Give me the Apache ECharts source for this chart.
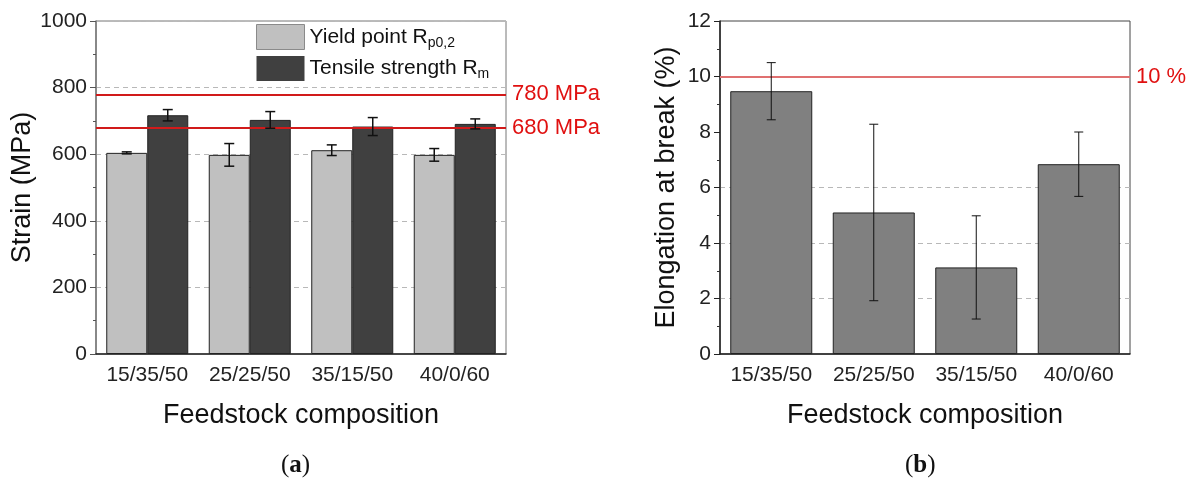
<!DOCTYPE html>
<html>
<head>
<meta charset="utf-8">
<script src="https://cdn.jsdelivr.net/npm/echarts@6/dist/echarts.min.js"></script>
<style>html,body{margin:0;padding:0;background:#fff}#c{width:1195px;height:481px}</style>
</head>
<body>
<div id="c"></div>
<script>
var categories = ['15/35/50', '25/25/50', '35/15/50', '40/0/60'];
var yieldVals = [604, 598, 612, 598];
var yieldErr = [3, 34, 16, 19];
var tensileVals = [717, 703, 683, 691];
var tensileErr = [17, 25, 27, 15];
var elongVals = [9.47, 5.10, 3.12, 6.84];
var elongErr = [1.03, 3.18, 1.86, 1.16];
var strainTicks = [0, 200, 400, 600, 800, 1000];
var elongTicks = [0, 2, 4, 6, 8, 10, 12];
var strainLimits = [780, 680];
var elongLimit = 10;

var FONT = 'Liberation Sans';

function errData(vals, errs) {
  return vals.map(function (v, i) { return [i, v - errs[i], v + errs[i]]; });
}
function errRender(offsetFrac, cap, lw) {
  return function (params, api) {
    var xi = api.value(0);
    var pLo = api.coord([xi, api.value(1)]);
    var pHi = api.coord([xi, api.value(2)]);
    var band = api.size([1, 0])[0];
    var x = pLo[0] + band * offsetFrac;
    var st = { stroke: '#111', lineWidth: lw };
    return {
      type: 'group',
      children: [
        { type: 'line', shape: { x1: x, y1: pHi[1], x2: x, y2: pLo[1] }, style: st },
        { type: 'line', shape: { x1: x - cap / 2, y1: pHi[1], x2: x + cap / 2, y2: pHi[1] }, style: st },
        { type: 'line', shape: { x1: x - cap / 2, y1: pLo[1], x2: x + cap / 2, y2: pLo[1] }, style: st }
      ]
    };
  };
}

var chart = echarts.init(document.getElementById('c'), null, { renderer: 'canvas' });

function xAx(gi) {
  return {
    type: 'category', gridIndex: gi, data: categories,
    name: 'Feedstock composition', nameLocation: 'middle', nameGap: 48,
    nameTextStyle: { fontFamily: FONT, fontSize: 27, color: '#111' },
    axisLine: { lineStyle: { color: '#222', width: 1.5 } },
    axisTick: { alignWithLabel: true, length: 6, lineStyle: { color: '#222' } },
    axisLabel: { interval: 0, fontFamily: FONT, fontSize: 21, color: '#222', margin: 11 }
  };
}
function plainNum(v) { return String(v); }

var option = {
  animation: false,
  backgroundColor: '#fff',
  textStyle: { fontFamily: FONT },
  grid: [
    { left: 96, right: 1195 - 506, top: 21, bottom: 481 - 354, show: true, borderColor: '#777', borderWidth: 1, backgroundColor: 'transparent' },
    { left: 720, right: 1195 - 1130, top: 21, bottom: 481 - 354, show: true, borderColor: '#444', borderWidth: 1, backgroundColor: 'transparent' }
  ],
  legend: {
    data: [
      { name: 'Yield point', itemStyle: { color: '#c0c0c0', borderColor: '#8a8a8a', borderWidth: 1 } },
      { name: 'Tensile strength', itemStyle: { color: '#404040', borderColor: '#404040', borderWidth: 0 } }
    ],
    orient: 'vertical', left: 256, top: 24, padding: 0,
    itemWidth: 48, itemHeight: 25, itemGap: 6, icon: 'rect',
    textStyle: {
      fontFamily: FONT, fontSize: 21, color: '#111',
      rich: { sub: { fontFamily: FONT, fontSize: 14, color: '#111', padding: [12, 0, 0, 0] } }
    },
    formatter: function (n) { return n === 'Yield point' ? 'Yield point R{sub|p0,2}' : 'Tensile strength R{sub|m}'; }
  },
  xAxis: [xAx(0), xAx(1)],
  yAxis: [
    {
      type: 'value', gridIndex: 0, min: strainTicks[0], max: strainTicks[strainTicks.length - 1], interval: 200,
      name: 'Strain (MPa)', nameLocation: 'middle', nameGap: 52,
      nameTextStyle: { fontFamily: FONT, fontSize: 27, color: '#111' },
      axisLine: { show: true, lineStyle: { color: '#777', width: 1.5 } },
      axisTick: { show: true, length: 6, lineStyle: { color: '#555' } },
      minorTick: { show: true, splitNumber: 2, length: 3, lineStyle: { color: '#555' } },
      axisLabel: { fontFamily: FONT, fontSize: 21, color: '#222', margin: 9, formatter: plainNum },
      splitLine: { show: true, lineStyle: { color: '#b8b8b8', type: [5, 4], width: 1 } }
    },
    {
      type: 'value', gridIndex: 1, min: elongTicks[0], max: elongTicks[elongTicks.length - 1], interval: 2,
      name: 'Elongation at break (%)', nameLocation: 'middle', nameGap: 40,
      nameTextStyle: { fontFamily: FONT, fontSize: 27, color: '#111' },
      axisLine: { show: true, lineStyle: { color: '#222', width: 1.5 } },
      axisTick: { show: true, length: 6, lineStyle: { color: '#222' } },
      minorTick: { show: true, splitNumber: 2, length: 3, lineStyle: { color: '#333' } },
      axisLabel: { fontFamily: FONT, fontSize: 21, color: '#222', margin: 9, formatter: plainNum },
      splitLine: { show: true, lineStyle: { color: ['rgba(0,0,0,0)', '#b8b8b8', '#b8b8b8', '#b8b8b8', 'rgba(0,0,0,0)', 'rgba(0,0,0,0)', 'rgba(0,0,0,0)'], type: [5, 4], width: 1 } }
    }
  ],
  series: [
    {
      name: 'Yield point', type: 'bar', xAxisIndex: 0, yAxisIndex: 0, data: yieldVals,
      barGap: '0%', barCategoryGap: '20%',
      itemStyle: { color: '#c0c0c0', borderColor: '#222', borderWidth: 1 },
      markLine: {
        silent: true, symbol: 'none',
        lineStyle: { color: '#d11a1a', width: 2, type: 'solid' },
        label: { show: true, position: 'end', distance: 6, color: '#e01010', fontFamily: FONT, fontSize: 22, formatter: function (p) { return p.value + ' MPa'; } },
        data: strainLimits.map(function (v) { return { yAxis: v }; })
      }
    },
    {
      name: 'Tensile strength', type: 'bar', xAxisIndex: 0, yAxisIndex: 0, data: tensileVals,
      barGap: '0%', barCategoryGap: '20%',
      itemStyle: { color: '#404040', borderColor: '#222', borderWidth: 1 }
    },
    {
      type: 'custom', xAxisIndex: 0, yAxisIndex: 0, data: errData(yieldVals, yieldErr),
      encode: { x: 0, y: [1, 2] }, renderItem: errRender(-0.2, 10, 1.5), z: 5, silent: true
    },
    {
      type: 'custom', xAxisIndex: 0, yAxisIndex: 0, data: errData(tensileVals, tensileErr),
      encode: { x: 0, y: [1, 2] }, renderItem: errRender(0.2, 10, 1.5), z: 5, silent: true
    },
    {
      name: 'Elongation', type: 'bar', xAxisIndex: 1, yAxisIndex: 1, data: elongVals,
      barCategoryGap: '20%',
      itemStyle: { color: '#808080', borderColor: '#222', borderWidth: 1 },
      markLine: {
        silent: true, symbol: 'none',
        lineStyle: { color: '#e07070', width: 2, type: 'solid' },
        label: { show: true, position: 'end', distance: 6, color: '#e01010', fontFamily: FONT, fontSize: 22, formatter: function (p) { return p.value + ' %'; } },
        data: [{ yAxis: elongLimit }]
      }
    },
    {
      type: 'custom', xAxisIndex: 1, yAxisIndex: 1, data: errData(elongVals, elongErr),
      encode: { x: 0, y: [1, 2] }, renderItem: errRender(0, 9, 1), z: 5, silent: true
    }
  ],
  graphic: [
    { type: 'text', left: 281, top: 453, style: { text: '({b|a})', fontFamily: 'Liberation Serif', fontSize: 25, fill: '#111', rich: { b: { fontFamily: 'Liberation Serif', fontWeight: 'bold', fontSize: 25, fill: '#111' } } } },
    { type: 'text', left: 905, top: 453, style: { text: '({b|b})', fontFamily: 'Liberation Serif', fontSize: 25, fill: '#111', rich: { b: { fontFamily: 'Liberation Serif', fontWeight: 'bold', fontSize: 25, fill: '#111' } } } }
  ]
};
chart.setOption(option);
</script>
</body>
</html>
